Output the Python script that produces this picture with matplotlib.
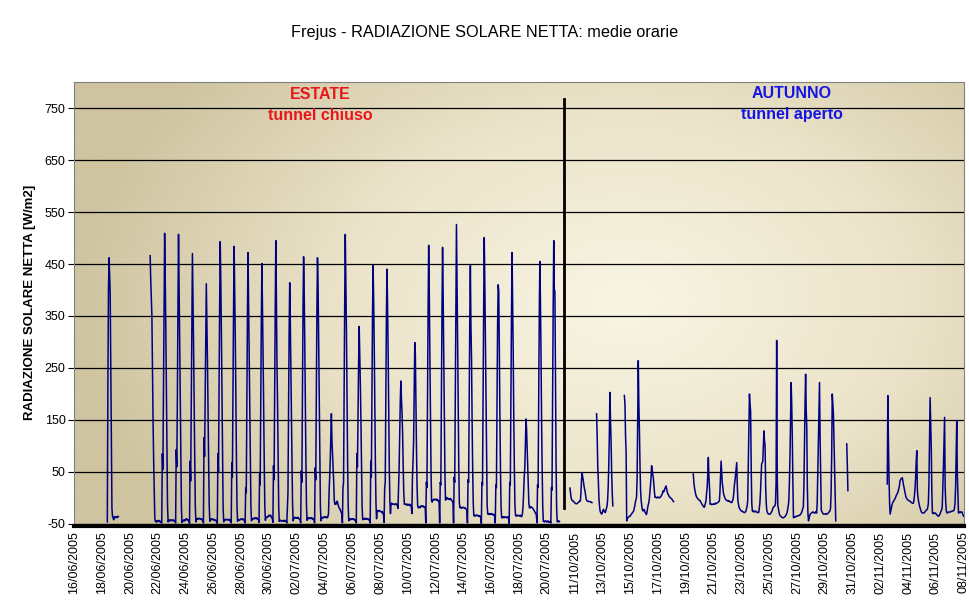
# Frejus - radiazione solare netta, medie orarie (estate / autunno 2005)
import matplotlib
matplotlib.use("Agg")
import matplotlib.pyplot as plt
from matplotlib.colors import LinearSegmentedColormap
import numpy as np
import pandas as pd

plt.rcParams['font.family'] = ['Liberation Sans', 'DejaVu Sans']
plt.rcParams['axes.unicode_minus'] = False

N24 = "nan " * 24

# hourly values, one string per day (h0 ... h23); summer from 16/06/2005 00:00
estate = [
    N24,  # 16/06
    N24,  # 17/06
    "nan nan nan nan nan nan nan nan nan -46 210 400 462 432 390 250 104 -20 -36 -38 -42 -36 -38 -37",
    "-36 -37 -38 -35 -36 " + "nan " * 19,
    N24,  # 20/06
    "nan nan nan nan nan nan nan nan nan nan nan 466 420 387 350 250 150 75 20 -38 -45 -46 -44 -46",
    "-44 -45 -43 -44 -46 -45 -47 -48 85 55 200 360 509 430 330 210 90 -15 -46 -43 -44 -42 -44 -43",
    "-42 -43 -44 -42 -43 -45 -44 -48 93 60 190 370 507 393 300 190 80 -20 -47 -44 -43 -44 -42 -44",
    "-41 -42 -40 -41 -43 -42 -44 -49 71 33 180 340 470 380 293 180 75 -18 -46 -41 -40 -39 -41 -40",
    "-39 -40 -41 -40 -42 -41 -43 -48 116 80 190 300 412 340 260 160 70 -15 -45 -40 -41 -42 -40 -41",
    "-42 -41 -43 -42 -44 -43 -45 -49 85 50 210 370 493 420 320 200 85 -18 -46 -42 -43 -41 -42 -42",
    "-41 -42 -42 -43 -41 -44 -45 -48 68 40 200 360 484 399 310 190 80 -17 -45 -41 -42 -43 -42 -41",
    "-40 -41 -42 -40 -41 -43 -44 -48 20 10 190 350 472 380 283 180 75 -16 -44 -40 -41 -40 -39 -40",
    "-38 -39 -40 -38 -40 -41 -42 -47 46 25 190 340 451 366 280 170 70 -15 -43 -38 -37 -36 -37 -35",
    "-33 -34 -35 -33 -36 -38 -40 -47 62 35 200 360 495 390 258 180 75 -16 -45 -42 -43 -44 -45 -44",
    "-44 -43 -45 -44 -43 -45 -44 -48 -19 10 180 320 414 345 250 160 65 -14 -44 -38 -39 -37 -38 -39",
    "-38 -39 -37 -38 -40 -41 -42 -48 52 30 200 360 464 400 300 180 70 -15 -43 -39 -38 -40 -39 -38",
    "-39 -40 -38 -39 -41 -40 -42 -48 58 35 190 360 462 410 300 170 60 -16 -44 -38 -37 -39 -38 -37",
    "-36 -37 -36 -38 -37 -38 -36 -30 10 40 70 120 162 110 85 57 30 -5 -12 -10 -12 -8 -6 -10",
    "-15 -18 -20 -22 -25 -28 -30 -48 20 30 200 380 507 420 320 190 70 -15 -44 -40 -41 -42 -40 -41",
    "-40 -41 -40 -42 -41 -43 -44 -48 85 60 160 260 330 278 220 150 60 -14 -42 -40 -41 -39 -40 -41",
    "-39 -40 -41 -40 -42 -41 -43 -48 71 40 190 350 447 380 290 170 65 -12 -40 -25 -24 -26 -25 -24",
    "-25 -26 -27 -28 -26 -30 -32 -47 19 30 200 350 440 374 280 160 60 -5 -30 -12 -10 -12 -11 -12",
    "-12 -13 -12 -11 -13 -12 -14 -20 20 60 123 187 225 190 164 123 60 10 -12 -11 -12 -13 -12 -14",
    "-12 -13 -14 -12 -15 -14 -16 -30 40 70 110 200 299 278 180 90 20 -15 -19 -18 -17 -19 -16 -15",
    "-16 -17 -15 -16 -18 -17 -19 -48 30 20 190 360 486 400 290 160 60 -5 -8 -5 -3 -4 -2 -3",
    "-3 -4 -2 -5 -4 -6 -8 -48 30 25 190 360 482 390 280 150 55 -4 -3 1 0 -2 -1 -3",
    "-2 -3 -1 -4 -5 -6 -10 -48 40 30 187 354 526 420 300 170 60 -10 -19 -17 -18 -20 -19 -18",
    "-18 -19 -20 -19 -21 -22 -24 -48 35 30 200 340 447 330 270 150 55 -12 -34 -33 -35 -34 -33 -34",
    "-33 -34 -35 -34 -36 -35 -37 -49 30 25 200 370 501 410 300 170 60 -14 -31 -30 -31 -32 -30 -31",
    "-30 -31 -32 -31 -33 -32 -34 -48 25 20 180 330 410 399 290 160 55 -16 -38 -37 -38 -36 -38 -37",
    "-36 -37 -38 -37 -38 -36 -38 -49 30 25 190 350 472 380 280 150 55 -14 -34 -33 -35 -34 -33 -34",
    "-34 -35 -33 -34 -36 -35 -30 -15 10 40 58 100 152 135 100 60 30 -10 -19 -16 -19 -17 -18 -19",
    "-20 -22 -24 -26 -28 -30 -33 -48 25 20 190 350 455 380 280 150 55 -16 -45 -44 -46 -45 -44 -46",
    "-45 -46 -44 -45 -47 -46 -45 -48 20 15 200 360 495 400 398 230 70 -20 -46 -45 -44 -46 -45 nan",
    "nan nan nan nan nan nan",  # 21/07 h0-h5
]

# autumn from 10/10/2005 06:00
autunno = [
    "nan nan nan nan nan nan nan nan nan nan 19 10 0 -3 -5 -6 -6 -8",  # 10/10 h6-h23
    "-9 -10 -11 -11 -11 -10 -9 -8 -7 -6 -6 10 35 49 40 34 25 18 14 5 -2 -5 -6 -6",
    "-7 -7 -7 -7 -8 -8 -9 nan nan nan nan nan nan nan 162 120 60 34 0 -15 -25 -28 -30 -31",
    "-28 -24 -22 -25 -27 -28 -24 -20 -16 -5 20 60 120 203 150 110 50 10 -15 nan nan nan nan nan",
    "nan " * 14 + "197 181 120 86 -44 -40 -38 -37 -36 -35",
    "-35 -33 -31 -30 -28 -27 -25 -20 -15 -8 -3 1 40 150 264 180 129 60 14 -5 -15 -22 -25 -24",
    "-22 -25 -28 -30 -32 -28 -20 -14 -10 -3 10 25 37 62 55 45 39 25 10 1 2 1 0 1",
    "2 1 0 1 1 3 5 7 10 14 12 15 18 21 23 17 12 8 6 4 2 1 0 -1",
    "-2 -4 -6 -7 " + "nan " * 20,
    "nan " * 13 + "46 30 20 14 8 4 1 0 -2 -3 -4",
    "-5 -5 -8 -10 -12 -14 -15 -17 -18 -14 -10 -5 10 20 45 78 40 20 -12 -11 -12 -13 -12 -12",
    "-12 -11 -12 -10 -11 -10 -10 -9 -8 -7 -6 10 40 71 50 30 20 10 5 2 -1 -3 -4 -5",
    "-5 -6 -5 -6 -7 -8 -8 -9 -8 -5 0 10 25 33 45 55 68 24 -5 -12 -18 -20 -22 -24",
    "-25 -25 -26 -27 -27 -28 -28 -27 -25 -20 -16 -5 60 120 200 180 168 60 -10 -25 -26 -25 -27 -26",
    "-25 -26 -27 -28 -28 -27 -28 -20 -10 10 40 65 68 70 100 129 110 100 20 -10 -25 -28 -30 -31",
    "-31 -31 -31 -29 -27 -25 -22 -18 -17 -16 -15 -10 30 303 40 -15 -20 -28 -32 -34 -35 -36 -37 -38",
    "-38 -38 -37 -36 -35 -33 -31 -28 -22 -15 -5 30 80 150 222 180 116 30 -38 -37 -36 -37 -36 -35",
    "-35 -35 -34 -34 -33 -33 -32 -30 -28 -25 -20 -18 20 100 180 238 170 136 20 -30 -44 -38 -34 -31",
    "-30 -29 -28 -27 -27 -28 -29 -29 -28 -26 -29 -10 50 116 180 222 116 40 -23 -26 -28 -30 -31 -31",
    "-31 -31 -30 -31 -31 -30 -29 -28 -26 -25 -20 10 80 200 180 162 110 66 10 -44 nan nan nan nan",
    "nan " * 14 + "104 66 14 " + "nan " * 7,
    N24,  # 31/10
    N24,  # 01/11
    "nan " * 12 + "27 197 110 40 -10 -31 -25 -18 -14 -10 -8 -6",
    "-4 -2 0 3 6 8 10 14 18 24 33 35 37 38 39 32 25 20 14 8 3 0 -2 -3",
    "-4 -5 -6 -6 -7 -8 -9 -10 -10 -10 -5 5 20 40 70 91 14 2 -6 -12 -17 -20 -24 -27",
    "-28 -29 -29 -29 -28 -27 -25 -24 -23 -22 -18 -10 30 110 193 140 97 10 -29 -30 -29 -30 -29 -29",
    "-30 -32 -33 -34 -35 -35 -33 -31 -28 -25 -23 -15 20 60 110 155 20 -10 -25 -29 -28 -28 -27 -27",
    "-27 -27 -26 -26 -25 -25 -25 -24 -20 -10 20 80 149 46 10 -29 -28 -27 -28 -27 -27 -27 -30 -33",
    "-35",  # 08/11 h0
]


def parse(rows):
    vals = []
    for r in rows:
        vals += [float(v) for v in r.split()]
    return vals


y_est = parse(estate)
y_aut = parse(autunno)
assert len(y_est) == 846, len(y_est)
assert len(y_aut) == 691, len(y_aut)

t_est = pd.date_range("2005-06-16 00:00", periods=len(y_est), freq="h")
t_aut = pd.date_range("2005-10-10 06:00", periods=len(y_aut), freq="h")
times = list(t_est) + list(t_aut)
y = np.array(y_est + y_aut)
x = np.arange(len(y))

fig = plt.figure(figsize=(9.7, 6.04), dpi=100)
ax = fig.add_axes([0.0763, 0.1325, 0.9175, 0.7317])

for s in ["top", "right", "left"]:
    ax.spines[s].set_color("#808080")
    ax.spines[s].set_linewidth(0.8)
ax.spines["bottom"].set_position(("outward", 1.5))
ax.spines["bottom"].set_color("black")
ax.spines["bottom"].set_linewidth(3)
ax.spines["bottom"].set_zorder(4)

# tan gradient background of the plot area
gx, gy = np.meshgrid(np.linspace(0, 1, 500), np.linspace(0, 1, 300))
r = np.sqrt(((gx - 0.62) / 0.62) ** 2 + ((gy - 0.5) / 0.85) ** 2)
cmap = LinearSegmentedColormap.from_list("tan", ["#f8f5e4", "#ece4ca", "#cfc4a0"])
ax.imshow(np.clip(r, 0, 1), cmap=cmap, extent=[0, 1, 0, 1], origin="lower",
          transform=ax.transAxes, aspect="auto", zorder=0, interpolation="bicubic")

ax.plot(x, y, color="#000080", lw=1.1, zorder=3)

ax.set_xlim(-0.5, len(y) - 0.5)
ax.set_ylim(-50, 800)
ax.set_yticks(np.arange(-50, 751, 100))
ax.yaxis.grid(True, color="black", lw=0.9, zorder=1)
ax.tick_params(axis="y", labelsize=9, length=4, color="black", pad=2)

ticks = x[::48]
ax.set_xticks(ticks)
ax.set_xticklabels([times[i].strftime("%d/%m/%Y") for i in ticks], fontsize=9)
ax.tick_params(axis="x", length=0, pad=4, labelrotation=90)

# season separator
sep = len(y_est) - 0.5
ax.plot([sep, sep], [-19, 767], color="black", lw=2, zorder=4)

fig.text(0.5, 0.947, "Frejus - RADIAZIONE SOLARE NETTA: medie orarie",
         ha="center", va="center", fontsize=11.7)
fig.text(0.031, 0.5, "RADIAZIONE SOLARE NETTA [W/m2]", rotation=90,
         ha="center", va="center", fontsize=9.5, fontweight="bold")

fig.text(0.33, 0.843, "ESTATE", color="#e8161a", ha="center", va="center",
         fontsize=11.5, fontweight="bold")
fig.text(0.33, 0.808, "tunnel chiuso", color="#e8161a", ha="center", va="center",
         fontsize=11.5, fontweight="bold")
fig.text(0.8165, 0.846, "AUTUNNO", color="#1414e6", ha="center", va="center",
         fontsize=11.5, fontweight="bold")
fig.text(0.8165, 0.81, "tunnel aperto", color="#1414e6", ha="center", va="center",
         fontsize=11.5, fontweight="bold")

fig.savefig("out.png", dpi=100)
